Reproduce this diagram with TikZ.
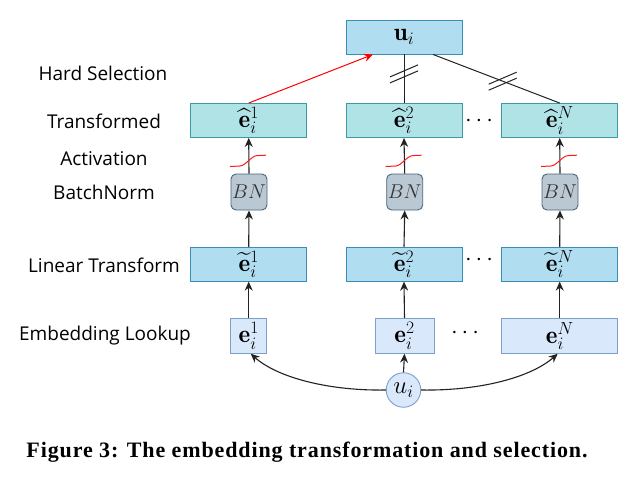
\RequirePackage{fix-cm}
\documentclass[tikz,border=0pt]{standalone}
\usepackage{amsmath}
\usepackage{fontspec}
\newfontfamily\labfont{Open Sans}
\newfontfamily\capfont[LetterSpace=4]{Liberation Serif}
\usetikzlibrary{arrows.meta}
\definecolor{trfill}{HTML}{B0E3E6}
\definecolor{trline}{HTML}{3E9AA0}
\definecolor{lnfill}{HTML}{B1DDF0}
\definecolor{lnline}{HTML}{3A8DB5}
\definecolor{emfill}{HTML}{DAE8FC}
\definecolor{emline}{HTML}{7E9ECB}
\definecolor{bnfill}{HTML}{BAC8D3}
\definecolor{bnline}{HTML}{4A6478}
\definecolor{arrcol}{HTML}{222222}
\tikzset{
  mathtxt/.style={font=\fontsize{25}{30}\selectfont},
  basebox/.style={rectangle, draw, line width=0.9pt, inner sep=0pt, minimum height=34pt, mathtxt},
  trbox/.style={basebox, fill=trfill, draw=trline, minimum width=116pt},
  lnbox/.style={basebox, fill=lnfill, draw=lnline, minimum width=116pt},
  embox/.style={basebox, fill=emfill, draw=emline},
  bnbox/.style={rectangle, rounded corners=5pt, draw=bnline, fill=bnfill, line width=0.9pt,
     minimum width=36pt, minimum height=36pt, inner sep=0pt, text=black!80, font=\fontsize{20}{24}\selectfont},
  circbox/.style={circle, draw=emline, fill=emfill, line width=0.9pt, minimum size=34.5pt, inner sep=0pt, mathtxt},
  lab/.style={font=\labfont\fontsize{19}{22}\selectfont, anchor=center},
  arr/.style={draw=arrcol, line width=1.1pt, -{Stealth[length=9pt,width=8pt]}},
  plain/.style={draw=arrcol, line width=1pt},
  actv/.style={draw=red!90!white, line width=1pt},
  dotslab/.style={font=\fontsize{24}{28}\selectfont}
}
\begin{document}
\begin{tikzpicture}[x=1pt,y=-1pt]
\useasboundingbox (0,0) rectangle (630,490);

% left labels
\node[lab] (l1) at (103,73) {Hard Selection};
\node[lab] (l2) at (104,121) {Transformed};
\node[lab] (l3) at (104,159) {Activation};
\node[lab] (l4) at (104,192) {BatchNorm};
\node[lab] (l5) at (104,265) {Linear Transform};
\node[lab] (l6) at (105,336) {Embedding Lookup};

% top
\node[lnbox] (u) at (404,37) {$\mathbf{u}_i$};

% transformed row
\node[trbox] (h1) at (248.7,120.5) {$\widehat{\mathbf{e}}_i^1$};
\node[trbox] (h2) at (404,120.5) {$\widehat{\mathbf{e}}_i^2$};
\node[trbox] (h3) at (559.7,120.5) {$\widehat{\mathbf{e}}_i^N$};
\node[dotslab] (d1) at (481,121) {$\cdots$};

% BN row
\node[bnbox] (b1) at (249,192) {$BN$};
\node[bnbox] (b2) at (404.7,192) {$BN$};
\node[bnbox] (b3) at (560,192) {$BN$};

% linear row
\node[lnbox] (t1) at (248.7,264.2) {$\widetilde{\mathbf{e}}_i^1$};
\node[lnbox] (t2) at (404,264.2) {$\widetilde{\mathbf{e}}_i^2$};
\node[lnbox] (t3) at (559.7,264.2) {$\widetilde{\mathbf{e}}_i^N$};
\node[dotslab] (d2) at (481,260) {$\cdots$};

% embedding row
\node[embox, minimum width=36pt, minimum height=35pt] (e1) at (248.7,335.8) {$\mathbf{e}_i^1$};
\node[embox, minimum width=59pt, minimum height=35pt] (e2) at (404.5,335.8) {$\mathbf{e}_i^2$};
\node[embox, minimum width=116pt, minimum height=35pt] (e3) at (559.7,335.8) {$\mathbf{e}_i^N$};
\node[dotslab] (d3) at (467,333) {$\cdots$};

% user circle
\node[circbox] (c) at (403.5,390) {$u_i$};

% arrows
\foreach \a/\b in {e1/t1,e2/t2,e3/t3,t1/b1,t2/b2,t3/b3,b1/h1,b2/h2,b3/h3}{
  \draw[arr] (\a.north) -- (\b.south);
}
\draw[arr] (c.north) -- (e2.south);
\draw[arr] (c.west) .. controls (330,391) and (278,378) .. ([xshift=2pt]e1.south);
\draw[arr] (c.east) .. controls (478,391) and (530,378) .. ([xshift=-2pt]e3.south);

% activation squiggles
\foreach \n/\x in {1/249,2/404.7,3/560}{
  \draw[actv] (\x-19,166.5) -- (\x-9,166) .. controls (\x-3,165.5) and (\x+2,156) .. (\x+8,155.6) -- (\x+17,155.2);
}

% hard selection
\draw[red, line width=1pt, -{Stealth[length=9pt,width=8pt]}] (h1.north) -- ([xshift=-31pt]u.south);
\draw[plain] (u.south) -- (h2.north) coordinate[pos=0.4] (m2);
\draw[plain] ([xshift=29pt]u.south) -- (h3.north) coordinate[pos=0.55] (m3);
\foreach \m in {m2,m3}{
  \draw[plain] ([shift={(-14,3)}]\m) -- ([shift={(14,-9)}]\m);
  \draw[plain] ([shift={(-14,9)}]\m) -- ([shift={(14,-3)}]\m);
}

% caption
\node[font=\capfont\bfseries\fontsize{22}{26}\selectfont] (cap) at (307,452) {Figure 3: The embedding transformation and selection.};
\end{tikzpicture}
\end{document}
